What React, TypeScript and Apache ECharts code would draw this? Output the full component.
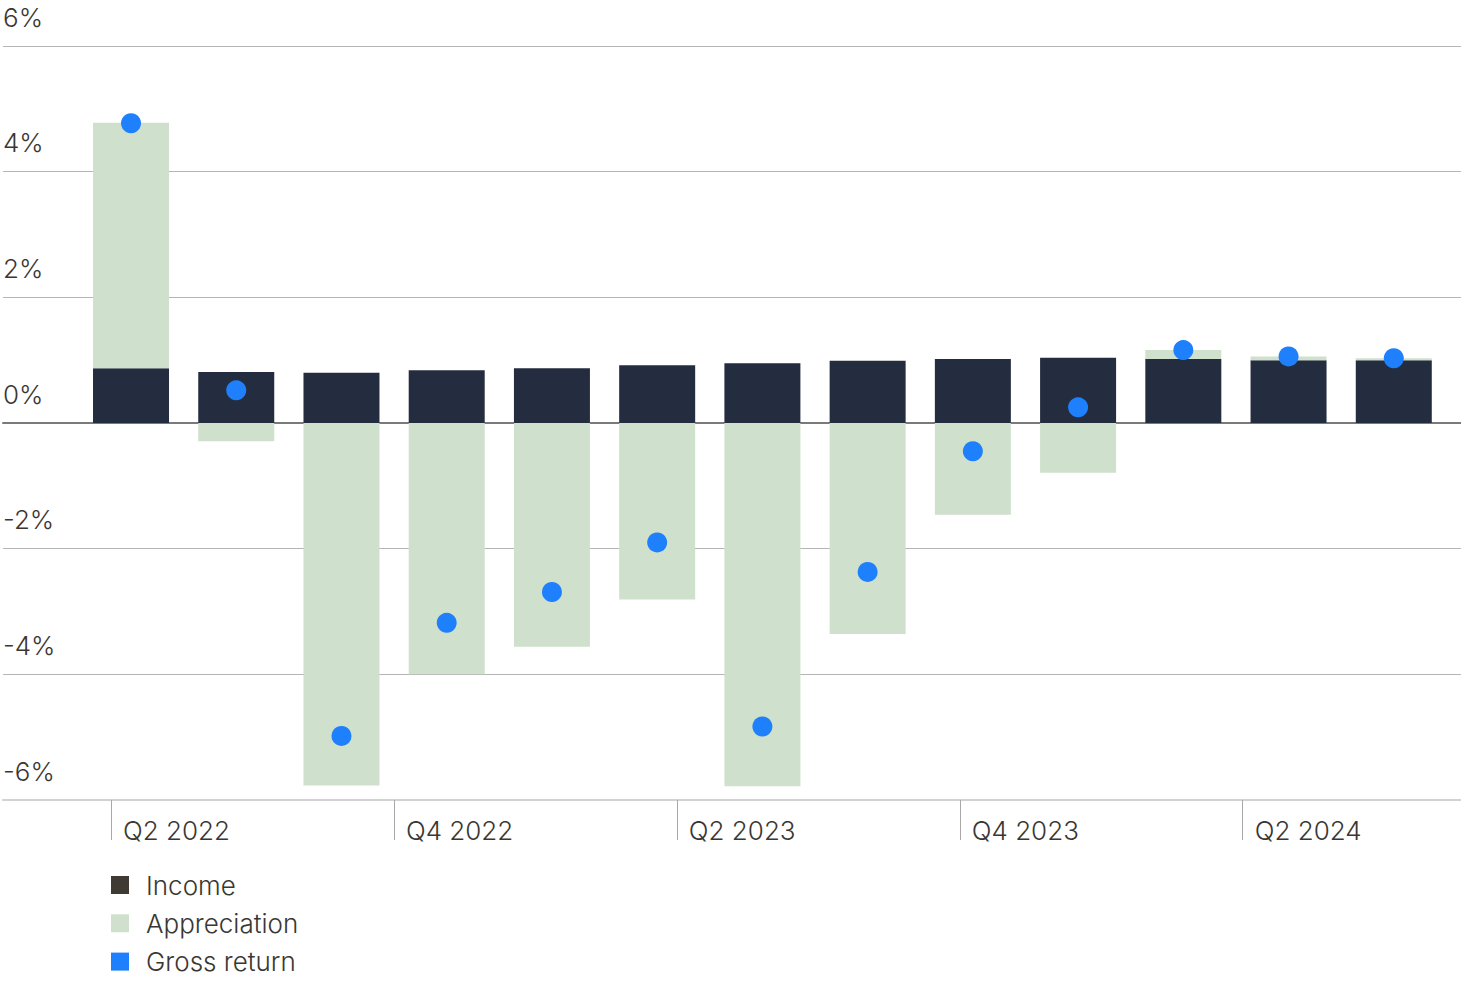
import React, { useEffect, useRef } from "react";
import * as echarts from "echarts";

// Quarters shown as bars (labels hidden in the reference)
const categories = [
  "Q1 2022", "Q2 2022", "Q3 2022", "Q4 2022", "Q1 2023", "Q2 2023", "Q3 2023",
  "Q4 2023", "Q1 2024", "Q2 2024", "Q3 2024", "Q4 2024", "Q1 2025",
];
const income = [0.87, 0.81, 0.8, 0.84, 0.87, 0.92, 0.95, 0.99, 1.02, 1.04, 1.02, 1.0, 1.0];
const appreciation = [3.91, -0.29, -5.77, -4.0, -3.56, -2.81, -5.78, -3.36, -1.46, -0.79, 0.14, 0.06, 0.03];
const grossReturn = [4.77, 0.52, -4.98, -3.18, -2.69, -1.9, -4.83, -2.37, -0.45, 0.25, 1.16, 1.06, 1.03];

// x-axis tick labels and their positions (in bar-index units)
const xTickLabels = ["Q2 2022", "Q4 2022", "Q2 2023", "Q4 2023", "Q2 2024"];
const xTickPositions = [-0.216, 2.478, 5.172, 7.866, 10.56];

const yTicks = [-6, -4, -2, 0, 2, 4, 6];

const FONT = "Inter, 'Noto Sans', sans-serif";
const TEXT = "#3a3733";
const WEIGHT = 300;

export default function App() {
  const ref = useRef<HTMLDivElement>(null);
  useEffect(() => {
    if (!ref.current) return;
    const chart = echarts.init(ref.current, undefined, { renderer: "svg" });
    const yMin = yTicks[0];
    const yMax = yTicks[yTicks.length - 1];
    const option: any = {
      animation: false,
      textStyle: { fontFamily: FONT, fontWeight: WEIGHT },
      grid: [
        { left: 0, right: 0, top: 46, bottom: 191, containLabel: false },
        { left: 78.4, right: 14.6, top: 46, bottom: 191, containLabel: false },
      ],
      legend: {
        orient: "vertical",
        left: 111,
        top: 872,
        padding: 0,
        icon: "rect",
        itemWidth: 18,
        itemHeight: 18,
        itemGap: 12.3,
        selectedMode: false,
        textStyle: {
          fontFamily: FONT,
          fontWeight: WEIGHT,
          fontSize: 26,
          color: TEXT,
          padding: [0, 0, 0, 12],
        },
        data: [
          { name: "Income", itemStyle: { color: "#3f3a33" } },
          { name: "Appreciation" },
          { name: "Gross return" },
        ],
      },
      xAxis: [
        {
          type: "value",
          gridIndex: 0,
          min: -1.245,
          max: 12.639,
          position: "bottom",
          axisLine: { show: true, onZero: false, lineStyle: { color: "#d2d2d2", width: 2 } },
          axisTick: {
            show: true,
            customValues: xTickPositions,
            length: 40,
            lineStyle: { color: "#a8a8a8", width: 1 },
          },
          axisLabel: {
            show: true,
            customValues: xTickPositions,
            margin: 30,
            align: "left",
            verticalAlign: "middle",
            padding: [0, 0, 0, 12],
            fontFamily: FONT,
            fontWeight: WEIGHT,
            fontSize: 26,
            color: TEXT,
            formatter: (v: number) => {
              let best = 0;
              for (let k = 1; k < xTickPositions.length; k++) {
                if (Math.abs(xTickPositions[k] - v) < Math.abs(xTickPositions[best] - v)) best = k;
              }
              return xTickLabels[best];
            },
          },
          splitLine: { show: false },
        },
        {
          type: "value",
          gridIndex: 0,
          min: 0,
          max: 1,
          position: "top",
          axisLine: { show: true, onZero: true, lineStyle: { color: "#7a7a7a", width: 2 } },
          axisTick: { show: false },
          axisLabel: { show: false },
          splitLine: { show: false },
        },
        {
          type: "category",
          gridIndex: 1,
          data: categories,
          boundaryGap: true,
          axisLine: { show: false },
          axisTick: { show: false },
          axisLabel: { show: false },
          splitLine: { show: false },
        },
      ],
      yAxis: [
        {
          type: "value",
          gridIndex: 0,
          min: yMin,
          max: yMax,
          interval: 2,
          axisLine: { show: false },
          axisTick: { show: false },
          axisLabel: {
            inside: true,
            margin: 0,
            verticalAlign: "bottom",
            lineHeight: 26,
            padding: [0, 0, 16, 0],
            fontFamily: FONT,
            fontWeight: WEIGHT,
            fontSize: 26,
            color: TEXT,
            formatter: (v: number) => `${v}%`,
          },
          splitLine: { show: true, lineStyle: { color: "#b5b5b5", width: 1 } },
        },
        {
          type: "value",
          gridIndex: 1,
          min: yMin,
          max: yMax,
          interval: 2,
          show: false,
          splitLine: { show: false },
        },
      ],
      series: [
        {
          name: "Income",
          type: "bar",
          xAxisIndex: 2,
          yAxisIndex: 1,
          stack: "total",
          barWidth: 76,
          itemStyle: { color: "#242c3f" },
          data: income,
        },
        {
          name: "Appreciation",
          type: "bar",
          xAxisIndex: 2,
          yAxisIndex: 1,
          stack: "total",
          barWidth: 76,
          itemStyle: { color: "#cfe1cc" },
          data: appreciation,
        },
        {
          name: "Gross return",
          type: "scatter",
          xAxisIndex: 2,
          yAxisIndex: 1,
          symbol: "circle",
          symbolSize: 20,
          z: 5,
          itemStyle: { color: "#1e80fd", opacity: 1 },
          data: grossReturn,
        },
      ],
    };
    chart.setOption(option);
    return () => chart.dispose();
  }, []);
  return <div ref={ref} style={{ position: "absolute", left: 0, top: 0, width: 1461, height: 991 }} />;
}
